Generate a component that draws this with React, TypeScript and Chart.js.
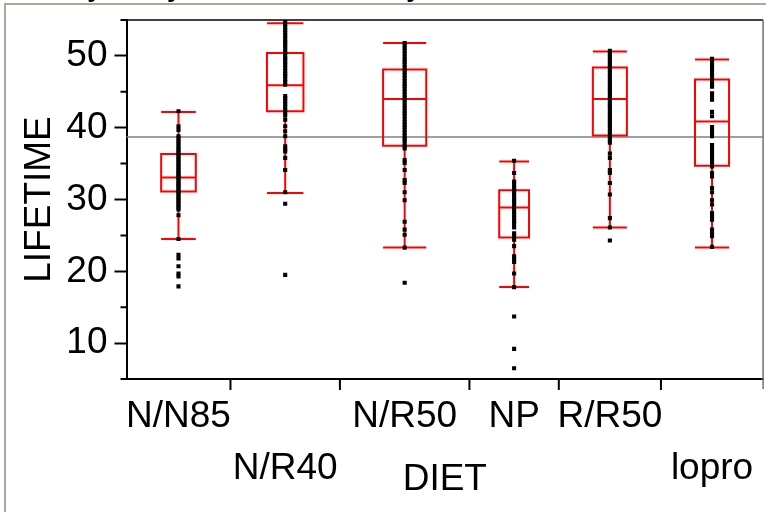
import React, { useEffect, useRef } from 'react';
import { Chart, registerables } from 'chart.js';

Chart.register(...registerables);

// ---- data ----
const categories = ['N/N85', 'N/R40', 'N/R50', 'NP', 'R/R50', 'lopro'];
const counts = [57, 60, 71, 49, 56, 56];
const labelRow = [0, 1, 0, 0, 0, 1];

const whiskerLow = [24.5, 30.9, 23.3, 17.8, 26.1, 23.3];
const q1 = [31.1, 42.3, 37.5, 24.7, 38.9, 34.7];
const median = [33.05, 45.9, 44.0, 28.9, 44.0, 40.85];
const q3 = [36.35, 50.4, 48.1, 31.3, 48.4, 46.7];
const whiskerHigh = [42.2, 54.55, 51.8, 35.3, 50.6, 49.5];
const grandMean = 38.7;

const nn85 = [42.3, 40.2, 39.7, 38.8, 38.5, 38.1, 37.8, 37.4, 37.1, 36.8, 36.5, 36.2, 35.9, 35.6, 35.3, 35.0, 34.7, 34.4, 34.1, 33.8, 33.6, 33.3, 33.1, 32.9, 32.6, 32.3, 32.0, 31.8, 31.5, 31.2, 31.0, 30.7, 30.4, 30.1, 29.8, 29.5, 29.2, 28.9, 28.6, 27.8, 24.5, 22.3, 21.8, 20.7, 19.7, 19.3, 17.9];
const nr40 = [54.8, 54.4, 54.0, 53.6, 53.2, 52.8, 52.4, 52.0, 51.7, 51.3, 50.9, 50.5, 50.2, 49.8, 49.5, 49.1, 48.7, 48.3, 47.9, 47.5, 47.2, 46.8, 46.4, 46.0, 44.4, 44.1, 43.7, 43.3, 42.9, 42.5, 42.1, 41.7, 41.1, 40.2, 39.5, 38.8, 37.4, 37.0, 36.7, 35.8, 34.1, 31.0, 29.4, 19.5];
const nr50 = [51.8, 51.5, 51.1, 50.7, 50.3, 49.9, 49.5, 49.2, 48.8, 48.4, 48.0, 47.7, 47.3, 46.9, 46.5, 46.1, 45.8, 45.4, 45.0, 44.6, 44.2, 43.9, 43.5, 43.1, 42.7, 42.3, 42.0, 41.6, 41.2, 40.8, 40.4, 40.1, 39.7, 39.3, 38.9, 38.5, 38.2, 37.8, 37.4, 37.1, 35.5, 35.1, 34.1, 32.7, 32.3, 31.0, 29.9, 26.9, 25.8, 25.1, 23.3, 18.4];
const np = [35.4, 33.7, 32.5, 32.1, 31.7, 31.3, 30.9, 30.5, 30.1, 29.8, 29.4, 29.0, 28.6, 28.2, 27.8, 27.4, 27.0, 26.6, 26.1, 25.3, 24.9, 24.4, 23.5, 22.1, 21.7, 21.3, 19.7, 17.8, 13.7, 9.2, 6.5];
const rr50 = [50.7, 50.3, 49.9, 49.5, 49.1, 48.7, 48.4, 48.0, 47.6, 47.2, 46.8, 46.4, 46.0, 45.6, 45.3, 44.9, 44.5, 44.1, 43.7, 43.3, 43.0, 42.6, 42.2, 41.8, 41.4, 41.0, 40.7, 40.3, 39.9, 39.5, 39.1, 38.7, 38.3, 37.9, 36.4, 35.8, 34.1, 33.7, 32.3, 30.7, 27.4, 26.1, 24.3];
const lopro = [49.6, 49.2, 48.8, 48.4, 48.0, 47.6, 47.2, 46.8, 46.4, 46.0, 45.7, 44.8, 44.3, 43.9, 42.2, 41.6, 40.1, 39.6, 39.2, 38.8, 37.6, 37.2, 36.8, 36.4, 36.0, 35.6, 35.2, 34.8, 34.6, 33.7, 33.2, 31.6, 31.0, 29.9, 29.3, 28.1, 27.6, 27.2, 25.8, 25.3, 24.9, 23.4];
const groupValues = [nn85, nr40, nr50, np, rr50, lopro];

const yMajorTicks = [10, 20, 30, 40, 50];
const yMinorTicks = [5, 15, 25, 35, 45, 55];
const titleText = 'Oneway Analysis of LIFETIME By DIET';
const xTitle = 'DIET';
const yTitle = 'LIFETIME';

const FONT = "'Liberation Sans', Arial, Helvetica, sans-serif";

export default function App() {
  const ref = useRef<HTMLCanvasElement>(null);

  useEffect(() => {
    const total = counts.reduce((a, b) => a + b, 0);
    const starts: number[] = [];
    let acc = 0;
    counts.forEach((c) => { starts.push(acc); acc += c; });
    const centers = counts.map((c, i) => starts[i] + c / 2);
    const boundaries = starts.slice(1);

    const points: { x: number; y: number }[] = [];
    groupValues.forEach((vals, i) => vals.forEach((v) => points.push({ x: centers[i], y: v })));

    const boxPlugin = {
      id: 'boxes',
      beforeDraw(chart: any) {
        const { ctx } = chart;
        ctx.save();
        ctx.strokeStyle = '#aca899';
        ctx.lineWidth = 2;
        ctx.beginPath();
        ctx.moveTo(5, 512);
        ctx.lineTo(5, 4);
        ctx.lineTo(766, 4);
        ctx.stroke();
        ctx.fillStyle = '#000';
        ctx.font = `bold 26.6px ${FONT}`;
        ctx.textBaseline = 'alphabetic';
        ctx.textAlign = 'left';
        ctx.fillText(titleText, 0, -3);
        ctx.restore();
      },
      beforeDatasetsDraw(chart: any) {
        const { ctx, chartArea, scales } = chart;
        const x = scales.x;
        const y = scales.y;
        ctx.save();
        const gy = y.getPixelForValue(grandMean);
        ctx.strokeStyle = '#808080';
        ctx.lineWidth = 1.6;
        ctx.beginPath();
        ctx.moveTo(chartArea.left, gy);
        ctx.lineTo(chartArea.right, gy);
        ctx.stroke();
        ctx.strokeStyle = '#ff0000';
        ctx.lineWidth = 2;
        categories.forEach((_, i) => {
          const cx = x.getPixelForValue(centers[i]);
          const xl = x.getPixelForValue(centers[i] - counts[i] / 6);
          const xr = x.getPixelForValue(centers[i] + counts[i] / 6);
          const yl = y.getPixelForValue(whiskerLow[i]);
          const y1 = y.getPixelForValue(q1[i]);
          const ym = y.getPixelForValue(median[i]);
          const y3 = y.getPixelForValue(q3[i]);
          const yh = y.getPixelForValue(whiskerHigh[i]);
          ctx.beginPath();
          ctx.rect(xl, y3, xr - xl, y1 - y3);
          ctx.moveTo(xl, ym); ctx.lineTo(xr, ym);
          ctx.moveTo(cx, y1); ctx.lineTo(cx, yl);
          ctx.moveTo(cx, y3); ctx.lineTo(cx, yh);
          ctx.moveTo(xl, yl); ctx.lineTo(xr, yl);
          ctx.moveTo(xl, yh); ctx.lineTo(xr, yh);
          ctx.stroke();
        });
        ctx.restore();
      },
      afterDraw(chart: any) {
        const { ctx, chartArea, scales } = chart;
        const x = scales.x;
        const y = scales.y;
        ctx.save();
        ctx.strokeStyle = '#000';
        ctx.lineWidth = 1.6;
        ctx.beginPath();
        ctx.moveTo(chartArea.left, chartArea.top);
        ctx.lineTo(chartArea.right, chartArea.top);
        ctx.stroke();
        ctx.strokeStyle = '#7a7a7a';
        ctx.lineWidth = 1.6;
        ctx.beginPath();
        ctx.moveTo(chartArea.right, chartArea.top);
        ctx.lineTo(chartArea.right, chartArea.bottom + 10);
        ctx.stroke();
        ctx.strokeStyle = '#000';
        ctx.lineWidth = 2;
        ctx.beginPath();
        yMinorTicks.forEach((v) => {
          const py = y.getPixelForValue(v);
          ctx.moveTo(chartArea.left - 6, py);
          ctx.lineTo(chartArea.left, py);
        });
        boundaries.forEach((b) => {
          const px = x.getPixelForValue(b);
          ctx.moveTo(px, chartArea.bottom);
          ctx.lineTo(px, chartArea.bottom + 11);
        });
        ctx.stroke();
        ctx.restore();
      },
    };

    const chart = new Chart(ref.current as HTMLCanvasElement, {
      type: 'scatter',
      data: {
        datasets: [
          {
            data: points,
            pointStyle: 'rect',
            pointRadius: 2.9,
            pointHoverRadius: 2.9,
            backgroundColor: '#000',
            borderColor: '#000',
            borderWidth: 0,
          },
        ],
      },
      options: {
        animation: false,
        responsive: false,
        maintainAspectRatio: false,
        layout: { padding: { top: 20, right: 1.5, left: 0, bottom: 0 } },
        plugins: { legend: { display: false }, tooltip: { enabled: false } },
        scales: {
          x: {
            type: 'linear',
            min: 0,
            max: total,
            position: 'bottom',
            afterBuildTicks: (s: any) => { s.ticks = centers.map((v) => ({ value: v })); },
            afterFit: (s: any) => { s.height = 133; s.paddingLeft = 0; s.paddingRight = 0; },
            ticks: {
              autoSkip: false,
              maxRotation: 0,
              minRotation: 0,
              padding: 12,
              color: '#000',
              font: { family: FONT, size: 37, lineHeight: 52 / 37 },
              callback: (_v: any, i: number) => (labelRow[i] ? ['', categories[i]] : categories[i]),
            },
            grid: { display: false, drawTicks: false },
            border: { display: true, color: '#000', width: 2 },
            title: {
              display: true,
              text: xTitle,
              color: '#000',
              font: { family: FONT, size: 37 },
              padding: { top: 0, bottom: 9.6 },
            },
          },
          y: {
            type: 'linear',
            min: 5,
            max: 55,
            afterBuildTicks: (s: any) => { s.ticks = yMajorTicks.map((v) => ({ value: v })); },
            afterFit: (s: any) => { s.width = 126.5; s.paddingTop = 0; s.paddingBottom = 0; },
            ticks: { padding: 7, color: '#000', font: { family: FONT, size: 37 } },
            grid: { drawOnChartArea: false, drawTicks: true, tickLength: 12, tickColor: '#000', tickWidth: 2 },
            border: { display: true, color: '#000', width: 2 },
            title: {
              display: true,
              text: yTitle,
              color: '#000',
              font: { family: FONT, size: 37 },
              padding: { top: 17.8, bottom: 0 },
            },
          },
        },
      },
      plugins: [boxPlugin],
    });
    return () => chart.destroy();
  }, []);

  return (
    <div style={{ position: 'fixed', left: 0, top: 0, width: 766, height: 512, background: '#fff' }}>
      <canvas ref={ref} width={766} height={512} style={{ display: 'block' }} />
    </div>
  );
}
